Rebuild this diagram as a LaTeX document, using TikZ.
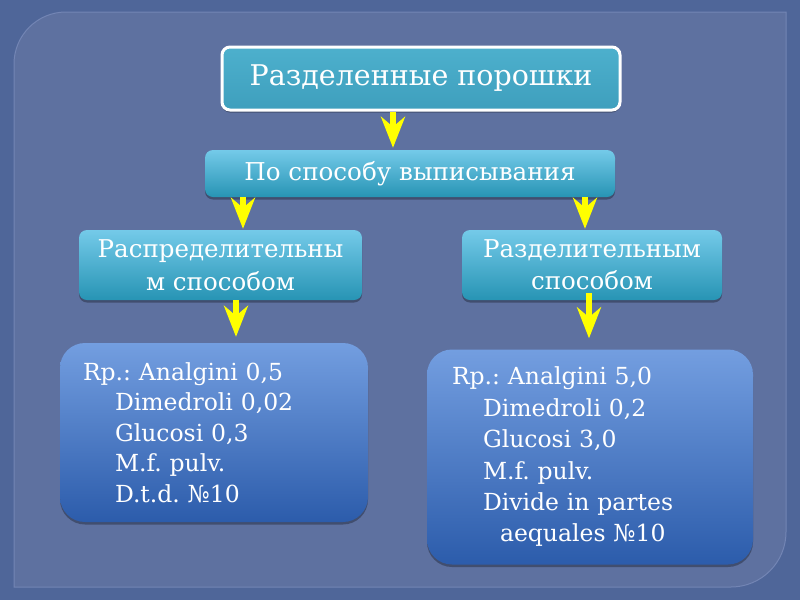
\documentclass[tikz,border=0pt]{standalone}
\usepackage{fontspec}
\setmainfont{DejaVu Serif}
\usetikzlibrary{arrows.meta,shadows}
\definecolor{bgout}{HTML}{4F6699}
\definecolor{bgin}{HTML}{5E71A0}
\definecolor{bgedge}{HTML}{7385B4}
\definecolor{tealtop}{HTML}{4DB0CD}
\definecolor{tealbot}{HTML}{3E9FBD}
\definecolor{cyantop}{HTML}{74CAE9}
\definecolor{cyanbot}{HTML}{2794B4}
\definecolor{bluetop}{HTML}{739EE0}
\definecolor{bluebot}{HTML}{2C5CAB}
\definecolor{arrowyellow}{HTML}{FFFF00}
\tikzset{
  shadowed/.style={drop shadow={shadow xshift=0pt, shadow yshift=-2.5pt, opacity=0.3, fill=black}},
  titlebox/.style={shadowed, rounded corners=8pt, draw=white, line width=3pt, top color=tealtop, bottom color=tealbot, text=white, inner sep=0pt, align=center},
  levelbox/.style={shadowed, rounded corners=8pt, top color=cyantop, bottom color=cyanbot, text=white, inner sep=0pt, align=center},
  recipebox/.style={shadowed, rounded corners=25pt, top color=bluetop, bottom color=bluebot, text=white, inner ysep=0pt, align=left},
  yarrow/.style={draw=arrowyellow, line width=6pt, -{Stealth[length=31pt, width=24pt, inset=10pt, fill=arrowyellow]}},
}
\begin{document}
\frenchspacing
\begin{tikzpicture}[x=1pt,y=-1pt]
\useasboundingbox (0,0) rectangle (800,600);
\fill[bgout] (0,0) rectangle (800,600);
\filldraw[fill=bgin, draw=bgedge, line width=1pt] (14,587) -- (14,64) arc[start angle=180, end angle=90, radius=52pt] -- (786,12) -- (786,532) arc[start angle=0, end angle=-90, radius=55pt] -- cycle;

\node[titlebox, minimum width=398pt, minimum height=63pt, font=\fontsize{28.5}{32}\selectfont] (top) at (421,78.5) {Разделенные порошки};
\node[levelbox, minimum width=410pt, minimum height=47pt, font=\fontsize{24.6}{30}\selectfont] (way) at (410,173.5) {По способу выписывания};
\node[levelbox, minimum width=283pt, minimum height=70pt, font=\fontsize{24.5}{33}\selectfont] (distr) at (220.5,265) {Распределительны\\м способом};
\node[levelbox, minimum width=260pt, minimum height=70pt, font=\fontsize{24.5}{32}\selectfont] (divid) at (592,265) {Разделительным\\способом};

\node[recipebox, minimum width=308pt, minimum height=179pt, inner xsep=23pt, text width=262pt, font=\fontsize{23.5}{30.5}\selectfont] (recL) at (214,432.5) {Rp.: Analgini 0,5\\
\hspace*{32pt}Dimedroli 0,02\\
\hspace*{32pt}Glucosi 0,3\\
\hspace*{32pt}M.f. pulv.\\
\hspace*{32pt}D.t.d. №10};
\node[recipebox, minimum width=326pt, minimum height=215pt, inner xsep=25pt, text width=276pt, font=\fontsize{23.5}{31.4}\selectfont] (recR) at (590,457) {Rp.: Analgini 5,0\\
\hspace*{31pt}Dimedroli 0,2\\
\hspace*{31pt}Glucosi 3,0\\
\hspace*{31pt}M.f. pulv.\\
\hspace*{31pt}Divide in partes\\
\hspace*{48pt}aequales №10};

\draw[yarrow, shorten >=2pt] (top.south -| 393,0) -- (way.north -| 393,0);
\draw[yarrow, shorten >=1pt] (way.south -| 243,0) -- (distr.north -| 243,0);
\draw[yarrow, shorten >=1pt] (way.south -| 585,0) -- (divid.north -| 585,0);
\draw[yarrow, shorten >=6pt] (distr.south -| 236,0) -- (recL.north -| 236,0);
\draw[yarrow, shorten <=-7pt, shorten >=11pt] (divid.south -| 589,0) -- (recR.north -| 589,0);
\end{tikzpicture}
\end{document}
